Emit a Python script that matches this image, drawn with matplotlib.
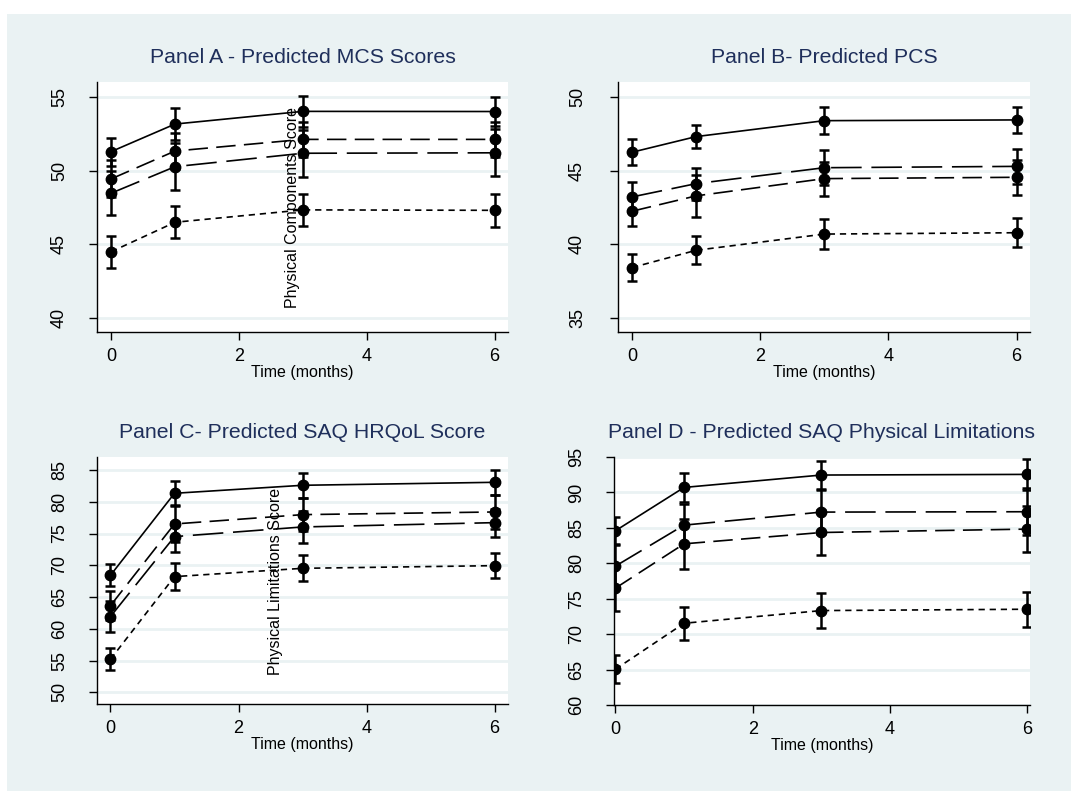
import numpy as np
import matplotlib
matplotlib.use('Agg')
import matplotlib.pyplot as plt
from matplotlib.patches import Rectangle

plt.rcParams['font.family'] = ['Liberation Sans', 'DejaVu Sans']
plt.rcParams['lines.scale_dashes'] = False

# time points (months)
months = [0, 1, 3, 6]

# Panel A - MCS
a_solid = [51.28, 53.15, 54.01, 54.00]
a_solid_err = [0.95, 1.10, 1.05, 1.00]
a_dash = [49.43, 51.32, 52.11, 52.11]
a_dash_err = [1.25, 1.20, 1.20, 1.20]
a_longdash = [48.46, 50.26, 51.17, 51.20]
a_longdash_err = [1.50, 1.60, 1.60, 1.60]
a_shortdash = [44.49, 46.49, 47.33, 47.30]
a_shortdash_err = [1.07, 1.10, 1.10, 1.10]

# Panel B - PCS
b_solid = [46.24, 47.30, 48.38, 48.43]
b_solid_err = [0.87, 0.80, 0.90, 0.90]
b_longdash = [43.21, 44.11, 45.19, 45.28]
b_longdash_err = [1.00, 1.08, 1.20, 1.17]
b_dash = [42.24, 43.28, 44.45, 44.54]
b_dash_err = [1.00, 1.42, 1.15, 1.20]
b_shortdash = [38.42, 39.59, 40.69, 40.78]
b_shortdash_err = [0.90, 0.95, 1.00, 1.00]

# Panel C - SAQ HRQoL
c_solid = [68.42, 81.33, 82.59, 83.06]
c_solid_err = [1.73, 1.90, 2.00, 1.94]
c_dash = [63.65, 76.50, 77.97, 78.39]
c_dash_err = [2.30, 2.90, 2.60, 2.70]
c_longdash = [61.92, 74.51, 76.03, 76.71]
c_longdash_err = [2.40, 2.36, 2.47, 2.20]
c_shortdash = [55.20, 68.21, 69.52, 69.94]
c_shortdash_err = [1.73, 2.10, 2.05, 1.94]

# Panel D - SAQ physical limitations
d_solid = [84.59, 90.71, 92.46, 92.55]
d_solid_err = [1.90, 2.00, 2.00, 2.15]
d_longdash = [79.60, 85.39, 87.23, 87.28]
d_longdash_err = [3.00, 3.00, 3.10, 3.30]
d_dash = [76.49, 82.75, 84.35, 84.83]
d_dash_err = [3.15, 3.50, 3.15, 3.25]
d_shortdash = [65.04, 71.54, 73.33, 73.52]
d_shortdash_err = [2.00, 2.36, 2.45, 2.50]

styles = {
    'solid': '-',
    'dash': (0, (14, 6)),
    'longdash': (0, (22, 7)),
    'shortdash': (0, (4.5, 3.5)),
}

panels = [
    dict(title='Panel A - Predicted MCS Scores',
         rect=[0.0906, 0.5803, 0.3838, 0.316], ylim=(39.05, 56.0), xlim=(-0.22, 6.21),
         yticks=[40, 45, 50, 55], ypad=15,
         series=[('solid', a_solid, a_solid_err), ('dash', a_dash, a_dash_err),
                 ('longdash', a_longdash, a_longdash_err), ('shortdash', a_shortdash, a_shortdash_err)],
         note=('Physical Components Score', 2.83, 47.5)),
    dict(title='Panel B- Predicted PCS',
         rect=[0.577, 0.5803, 0.3847, 0.316], ylim=(34.05, 51.0), xlim=(-0.22, 6.21),
         yticks=[35, 40, 45, 50], ypad=17,
         series=[('solid', b_solid, b_solid_err), ('longdash', b_longdash, b_longdash_err),
                 ('dash', b_dash, b_dash_err), ('shortdash', b_shortdash, b_shortdash_err)],
         note=None),
    dict(title='Panel C- Predicted SAQ HRQoL Score',
         rect=[0.0906, 0.110, 0.3838, 0.3123], ylim=(48.16, 87.05), xlim=(-0.21, 6.21),
         yticks=[50, 55, 60, 65, 70, 75, 80, 85], ypad=15,
         series=[('solid', c_solid, c_solid_err), ('dash', c_dash, c_dash_err),
                 ('longdash', c_longdash, c_longdash_err), ('shortdash', c_shortdash, c_shortdash_err)],
         note=('Physical Limitations Score', 2.57, 67.4)),
    dict(title='Panel D - Predicted SAQ Physical Limitations',
         rect=[0.5733, 0.1087, 0.388, 0.3135], ylim=(60, 95), xlim=(-0.02, 6.03),
         yticks=[60, 65, 70, 75, 80, 85, 90, 95], ypad=15,
         series=[('solid', d_solid, d_solid_err), ('longdash', d_longdash, d_longdash_err),
                 ('dash', d_dash, d_dash_err), ('shortdash', d_shortdash, d_shortdash_err)],
         note=None),
]

bg = '#EAF2F3'
fig = plt.figure(figsize=(10.71, 7.91), dpi=100, facecolor='white')
fig.patches.append(Rectangle((7 / 1071, 0), 1, 1 - 14 / 791, transform=fig.transFigure,
                             facecolor=bg, edgecolor='none', zorder=-10))

for p in panels:
    ax = fig.add_axes(p['rect'])
    ax.set_facecolor('white')
    for name, vals, errs in p['series']:
        ax.errorbar(months, vals, yerr=errs, fmt='none', ecolor='black',
                    elinewidth=1.8, capsize=3.8, capthick=1.8, zorder=3)
        ax.plot(months, vals, color='black', linestyle=styles[name], linewidth=1.2,
                marker='o', markersize=7.5, markerfacecolor='black',
                markeredgecolor='black', zorder=4)
    ax.set_xlim(*p['xlim'])
    ax.set_ylim(*p['ylim'])
    ax.set_xticks([0, 2, 4, 6])
    ax.set_yticks(p['yticks'])
    ax.yaxis.grid(True, color=bg, linewidth=2.0)
    ax.set_axisbelow(True)
    for s in ['top', 'right']:
        ax.spines[s].set_visible(False)
    for s in ['left', 'bottom']:
        ax.spines[s].set_linewidth(1.0)
    ax.tick_params(axis='both', direction='out', length=6, width=1.0, labelsize=13)
    ax.tick_params(axis='x', pad=5.5)
    ax.tick_params(axis='y', pad=p['ypad'])
    for lab in ax.get_yticklabels():
        lab.set_rotation(90)
        lab.set_va('center')
    ax.set_xlabel('Time (months)', fontsize=11.5, labelpad=0)
    ax.set_title(p['title'], fontsize=15.3, color='#1F2F5B', pad=14)
    if p['note']:
        txt, nx, ny = p['note']
        ax.text(nx, ny, txt, rotation=90, ha='center', va='center', fontsize=11.5, zorder=5)

fig.savefig('out.png', dpi=100, facecolor=fig.get_facecolor())
